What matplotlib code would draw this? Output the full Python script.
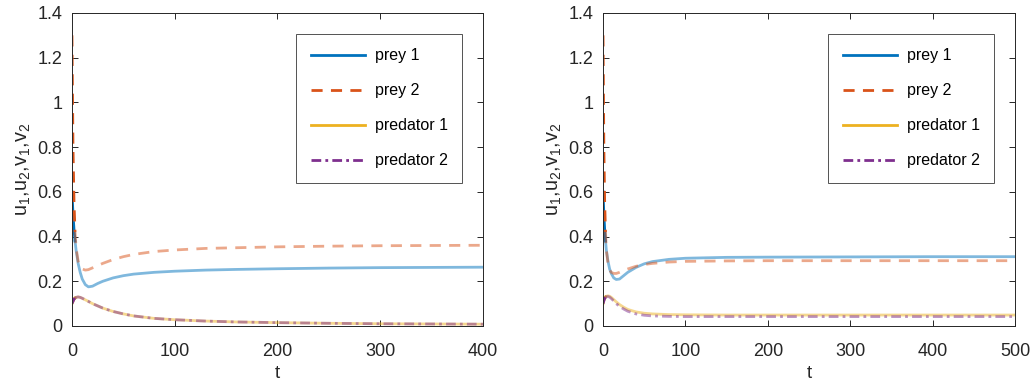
import matplotlib
matplotlib.use("Agg")
import matplotlib.pyplot as plt
import numpy as np

plt.rcParams['font.family'] = ['Liberation Sans', 'DejaVu Sans']
plt.rcParams['mathtext.fontset'] = 'custom'
plt.rcParams['mathtext.rm'] = 'Liberation Sans'
plt.rcParams['mathtext.it'] = 'Liberation Sans'
plt.rcParams['mathtext.default'] = 'regular'

# ---- data: left panel ----
t_left = [0, 1, 2, 3, 4, 6, 8, 10, 13, 16, 20, 25, 30, 40, 50, 60, 80, 100, 130, 160, 200, 250, 300, 350, 400]
prey1_left = [0.60, 0.50, 0.43, 0.38, 0.34, 0.28, 0.24, 0.21, 0.185, 0.175, 0.178, 0.19, 0.20, 0.215, 0.225, 0.232,
              0.240, 0.245, 0.250, 0.253, 0.256, 0.259, 0.261, 0.262, 0.263]
prey2_left = [1.30, 0.80, 0.55, 0.42, 0.35, 0.29, 0.265, 0.255, 0.25, 0.252, 0.26, 0.27, 0.28, 0.297, 0.31, 0.32,
              0.333, 0.34, 0.347, 0.35, 0.354, 0.357, 0.359, 0.36, 0.361]
pred1_left = [0.10, 0.11, 0.12, 0.125, 0.128, 0.13, 0.128, 0.124, 0.117, 0.11, 0.10, 0.09, 0.08, 0.065, 0.054, 0.045,
              0.034, 0.028, 0.022, 0.018, 0.015, 0.012, 0.010, 0.009, 0.008]
pred2_left = [0.10, 0.11, 0.12, 0.125, 0.128, 0.13, 0.128, 0.124, 0.117, 0.11, 0.10, 0.09, 0.08, 0.065, 0.054, 0.045,
              0.034, 0.028, 0.022, 0.018, 0.015, 0.012, 0.010, 0.009, 0.008]

# ---- data: right panel ----
t_right = [0, 1, 2, 3, 4, 6, 8, 10, 13, 16, 20, 25, 30, 40, 50, 60, 80, 100, 150, 200, 300, 400, 500]
prey1_right = [0.60, 0.50, 0.43, 0.38, 0.34, 0.29, 0.255, 0.235, 0.215, 0.208, 0.21, 0.225, 0.24, 0.262, 0.278,
               0.288, 0.298, 0.303, 0.307, 0.308, 0.309, 0.31, 0.31]
prey2_right = [1.30, 0.80, 0.55, 0.42, 0.34, 0.28, 0.25, 0.24, 0.235, 0.235, 0.24, 0.248, 0.255, 0.267, 0.275,
               0.28, 0.286, 0.289, 0.291, 0.292, 0.292, 0.292, 0.292]
pred1_right = [0.10, 0.115, 0.125, 0.13, 0.133, 0.135, 0.133, 0.128, 0.118, 0.108, 0.096, 0.084, 0.074, 0.063,
               0.057, 0.054, 0.051, 0.050, 0.049, 0.049, 0.049, 0.049, 0.049]
pred2_right = [0.10, 0.113, 0.123, 0.128, 0.131, 0.132, 0.129, 0.123, 0.112, 0.10, 0.088, 0.076, 0.066, 0.054,
               0.048, 0.045, 0.043, 0.042, 0.042, 0.042, 0.042, 0.042, 0.042]

labels = ['prey 1', 'prey 2', 'predator 1', 'predator 2']
colors = ['#0072BD', '#D95319', '#EDB120', '#7E2F8E']
styles = ['-', (0, (4, 3)), '-', (0, (3.5, 1.5, 1, 1.5))]
yticks = [0, 0.2, 0.4, 0.6, 0.8, 1.0, 1.2, 1.4]
ytick_labels = ['0', '0.2', '0.4', '0.6', '0.8', '1', '1.2', '1.4']

fig = plt.figure(figsize=(10.31, 3.81), dpi=100)
ax1 = fig.add_axes([0.0698, 0.1444, 0.3986, 0.8215])
ax2 = fig.add_axes([0.5849, 0.1444, 0.3996, 0.8215])

panels = [
    (ax1, t_left, [prey1_left, prey2_left, pred1_left, pred2_left], [0, 100, 200, 300, 400], 400),
    (ax2, t_right, [prey1_right, prey2_right, pred1_right, pred2_right], [0, 100, 200, 300, 400, 500], 500),
]

for ax, t, series, xt, xmax in panels:
    t = np.asarray(t)
    handles = []
    for s, c, ls, lab in zip(series, colors, styles, labels):
        s = np.asarray(s)
        early = t <= 3
        late = t >= 3
        ax.plot(t[late], s[late], color=c, ls=ls, lw=2.0, alpha=0.5)
        ax.plot(t[early], s[early], color=c, ls=ls, lw=2.0, alpha=1.0)
        h, = ax.plot([], [], color=c, ls=ls, lw=2.0, label=lab)
        handles.append(h)
    ax.set_xlim(0, xmax)
    ax.set_ylim(0, 1.4)
    ax.set_xticks(xt)
    ax.set_yticks(yticks)
    ax.set_yticklabels(ytick_labels)
    ax.tick_params(direction='in', top=True, right=True, labelsize=13, colors='#262626',
                   length=4, width=0.7)
    ax.tick_params(axis='x', pad=12)
    ax.tick_params(axis='y', pad=7)
    for sp in ax.spines.values():
        sp.set_color('#262626')
        sp.set_linewidth(0.7)
    ax.set_xlabel('t', fontsize=13.5, color='#262626', labelpad=3.8)
    ax.set_ylabel(r'u$_1$,u$_2$,v$_1$,v$_2$', fontsize=14.3, color='#262626', labelpad=3)
    leg = ax.legend(handles=handles, loc='upper right', bbox_to_anchor=(0.949, 0.933),
                    fontsize=11.5, frameon=True, fancybox=False, edgecolor='#262626',
                    handlelength=3.4, handletextpad=0.6, labelspacing=1.25,
                    borderpad=0.9, borderaxespad=0)
    leg.get_frame().set_linewidth(0.7)

fig.savefig('out.png', dpi=100)
